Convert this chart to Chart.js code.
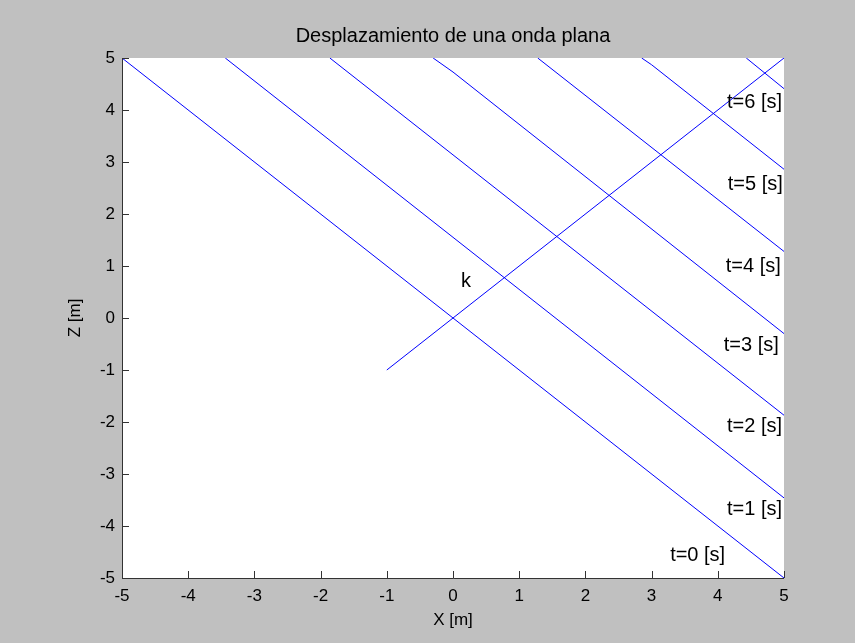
<!DOCTYPE html>
<html>
<head>
<meta charset="utf-8">
<script src="https://cdn.jsdelivr.net/npm/chart.js@4/dist/chart.umd.min.js"></script>
<style>
  body { margin: 0; background: #c0c0c0; }
  #grafico { display: block; }
</style>
</head>
<body>
<canvas id="grafico" width="855" height="643"></canvas>
<script>
// Frentes de onda para cada tiempo (x, z)
const frenteT0 = [{x: -5, y: 5}, {x: 5, y: -5}];
const frenteT1 = [{x: -3.44, y: 5}, {x: 5, y: -3.46}];
const frenteT2 = [{x: -1.86, y: 5}, {x: 5, y: -1.87}];
const frenteT3 = [{x: -0.30, y: 5}, {x: 0, y: 4.73}, {x: 5, y: -0.30}];
const frenteT4 = [{x: 1.28, y: 5}, {x: 5, y: 1.28}];
const frenteT5 = [{x: 2.85, y: 5}, {x: 3.0, y: 4.87}, {x: 5, y: 2.86}];
const frenteT6 = [{x: 4.43, y: 5}, {x: 5, y: 4.41}];

// Vector de onda k
const vectorK = [{x: -1, y: -1}, {x: 5, y: 5}];

// Etiquetas de texto y su posición (borde izquierdo, centro vertical)
const etiquetas = ["t=0 [s]", "t=1 [s]", "t=2 [s]", "t=3 [s]", "t=4 [s]", "t=5 [s]", "t=6 [s]", "k"];
const etiquetasX = [3.28, 4.14, 4.14, 4.09, 4.12, 4.15, 4.14, 0.12];
const etiquetasZ = [-4.56, -3.69, -2.08, -0.52, 1.0, 2.56, 4.15, 0.7];

const ticksEje = [-5, -4, -3, -2, -1, 0, 1, 2, 3, 4, 5];

const titulo = 'Desplazamiento de una onda plana';

const azul = '#0000ff';
const fuente = "'Liberation Sans', Arial, sans-serif";

// Plugin que pinta el fondo gris, el área blanca, los ejes y los textos
const estiloMatlab = {
  id: 'estiloMatlab',
  beforeDraw(chart) {
    const ctx = chart.ctx;
    const area = chart.chartArea;
    ctx.save();
    ctx.fillStyle = '#c0c0c0';
    ctx.fillRect(0, 0, chart.width, chart.height);
    ctx.fillStyle = '#ffffff';
    ctx.fillRect(area.left, area.top, area.right - area.left, area.bottom - area.top);
    ctx.restore();
  },
  afterDraw(chart) {
    const ctx = chart.ctx;
    const area = chart.chartArea;
    const ejeX = chart.scales.x;
    const ejeY = chart.scales.y;
    ctx.save();
    ctx.strokeStyle = '#333333';
    ctx.lineWidth = 1;
    ctx.beginPath();
    ctx.moveTo(area.left + 0.5, area.top);
    ctx.lineTo(area.left + 0.5, area.bottom + 0.5);
    ctx.lineTo(area.right, area.bottom + 0.5);
    // marcas hacia adentro
    ticksEje.forEach((v) => {
      const px = Math.round(ejeX.getPixelForValue(v)) + 0.5;
      ctx.moveTo(px, area.bottom);
      ctx.lineTo(px, area.bottom - 7);
      const py = Math.round(ejeY.getPixelForValue(v)) + 0.5;
      ctx.moveTo(area.left, py);
      ctx.lineTo(area.left + 7, py);
    });
    ctx.stroke();

    ctx.fillStyle = '#000000';
    ctx.font = '20px ' + fuente;
    // título centrado sobre el área del gráfico
    ctx.textAlign = 'center';
    ctx.textBaseline = 'middle';
    ctx.fillText(titulo, (area.left + area.right) / 2, 36);

    ctx.textAlign = 'left';
    etiquetas.forEach((texto, i) => {
      ctx.fillText(texto, ejeX.getPixelForValue(etiquetasX[i]), ejeY.getPixelForValue(etiquetasZ[i]));
    });
    ctx.restore();
  }
};

const serie = (datos) => ({
  data: datos,
  showLine: true,
  borderColor: azul,
  borderWidth: 1,
  pointRadius: 0,
  fill: false
});

const grafico = document.getElementById("grafico");
const chart = new Chart(grafico.getContext('2d'), {
  type: 'scatter',
  data: {
    datasets: [
      serie(frenteT0), serie(frenteT1), serie(frenteT2), serie(frenteT3),
      serie(frenteT4), serie(frenteT5), serie(frenteT6), serie(vectorK)
    ]
  },
  options: {
    responsive: false,
    animation: false,
    layout: { padding: { left: 0, right: 71, top: 58, bottom: 0 } },
    plugins: {
      legend: { display: false },
      tooltip: { enabled: false },
      title: { display: false }
    },
    scales: {
      x: {
        type: 'linear',
        min: -5,
        max: 5,
        afterFit: (eje) => { eje.height = 65; },
        afterBuildTicks: (eje) => { eje.ticks = ticksEje.map((v) => ({ value: v })); },
        grid: { display: false, drawTicks: false },
        border: { display: false },
        ticks: { color: '#000000', font: { family: fuente, size: 17 }, padding: 8, maxRotation: 0 },
        title: {
          display: true,
          text: 'X [m]',
          color: '#000000',
          font: { family: fuente, size: 17 },
          padding: { top: 0, bottom: 12 }
        }
      },
      y: {
        type: 'linear',
        min: -5,
        max: 5,
        afterFit: (eje) => { eje.width = 122; },
        afterBuildTicks: (eje) => { eje.ticks = ticksEje.map((v) => ({ value: v })); },
        grid: { display: false, drawTicks: false },
        border: { display: false },
        ticks: { color: '#000000', font: { family: fuente, size: 17 }, padding: 7 },
        title: {
          display: true,
          text: 'Z [m]',
          color: '#000000',
          font: { family: fuente, size: 17 },
          padding: { top: 65, bottom: 0 }
        }
      }
    }
  },
  plugins: [estiloMatlab]
});
</script>
</body>
</html>
